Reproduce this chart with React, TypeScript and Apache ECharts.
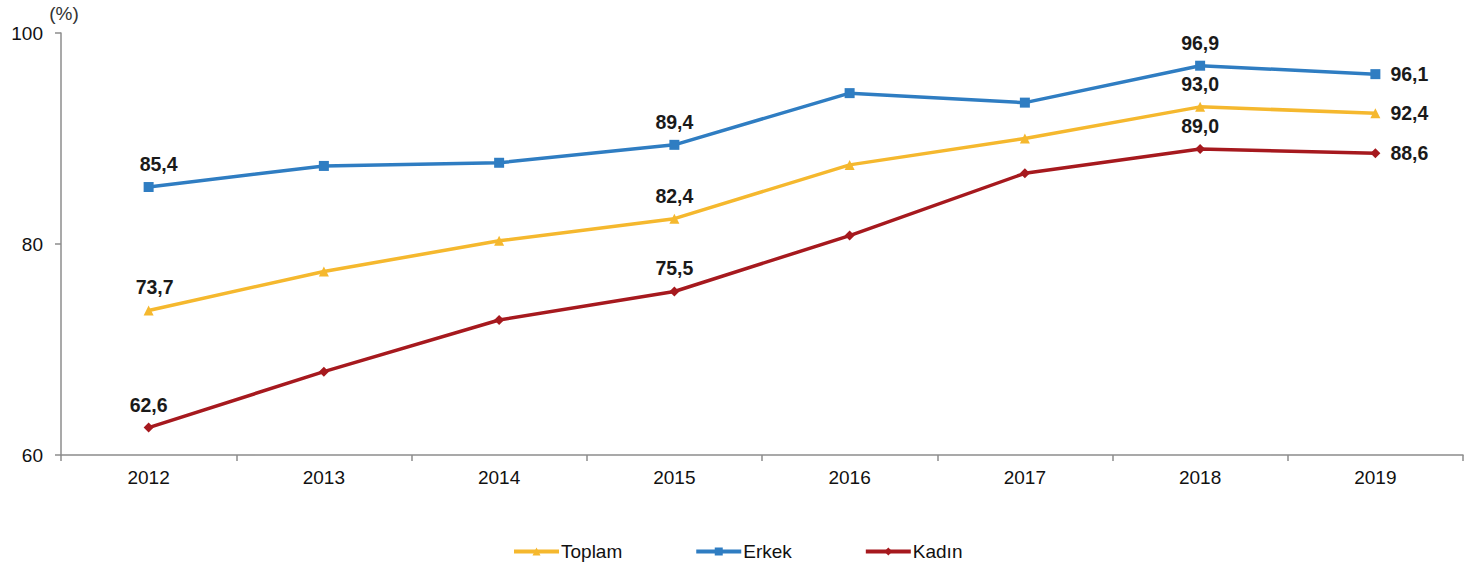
import React, { useEffect, useRef } from "react";
import * as echarts from "echarts";

const years = ["2012", "2013", "2014", "2015", "2016", "2017", "2018", "2019"];
const toplam = [73.7, 77.4, 80.3, 82.4, 87.5, 90.0, 93.0, 92.4];
const erkek = [85.4, 87.4, 87.7, 89.4, 94.3, 93.4, 96.9, 96.1];
const kadin = [62.6, 67.9, 72.8, 75.5, 80.8, 86.7, 89.0, 88.6];
const labelIdx = [0, 3, 6, 7];
const yTicks = [60, 80, 100];

const FONT = "'Liberation Sans', Arial, sans-serif";

function fmt(v: number) {
  return v.toFixed(1).replace(".", ",");
}

function buildData(values: number[], offsets: Record<number, number>) {
  return values.map((v, i) => {
    if (!labelIdx.includes(i)) return { value: v };
    const last = i === values.length - 1;
    return {
      value: v,
      label: {
        show: true,
        position: last ? "right" : "top",
        distance: last ? 10 : 8,
        offset: [offsets[i] || 0, 0],
        formatter: () => fmt(v),
        fontFamily: FONT,
        fontSize: 19.5,
        fontWeight: "bold",
        color: "#1a1a1a",
      },
    };
  });
}

export default function App() {
  const ref = useRef<HTMLDivElement>(null);
  useEffect(() => {
    if (!ref.current) return;
    const chart = echarts.init(ref.current, null, { renderer: "svg" });
    const series = [
      {
        name: "Toplam",
        color: "#F5B82E",
        symbol: "triangle",
        symbolSize: 10,
        data: buildData(toplam, { 0: 6 }),
      },
      {
        name: "Erkek",
        color: "#2F7DC2",
        symbol: "rect",
        symbolSize: 10,
        data: buildData(erkek, { 0: 10 }),
      },
      {
        name: "Kadın",
        color: "#A6191E",
        symbol: "diamond",
        symbolSize: 10,
        data: buildData(kadin, {}),
      },
    ].map((s) => ({
      type: "line" as const,
      name: s.name,
      data: s.data,
      symbol: s.symbol,
      symbolSize: s.symbolSize,
      showSymbol: true,
      lineStyle: { width: 3.5, color: s.color },
      itemStyle: { color: s.color },
      label: { show: false },
      emphasis: { disabled: true },
    }));
    chart.setOption({
      animation: false,
      textStyle: { fontFamily: FONT },
      grid: { left: 61, right: 13, top: 33, bottom: 112, containLabel: false },
      legend: {
        left: 507,
        top: 537,
        itemWidth: 45,
        itemHeight: 10,
        itemGap: 72,
        lineStyle: { width: 4 },
        textStyle: { fontFamily: FONT, fontSize: 19, color: "#111111", padding: [0, 0, 0, -3] },
        data: ["Toplam", "Erkek", "Kadın"],
      },
      xAxis: {
        type: "category",
        data: years,
        boundaryGap: true,
        axisLine: { lineStyle: { color: "#8C8C8C", width: 1.5 } },
        axisTick: { show: true, length: 6, lineStyle: { color: "#8C8C8C", width: 1.5 } },
        axisLabel: { fontFamily: FONT, fontSize: 19, color: "#111111", margin: 13 },
      },
      yAxis: {
        type: "value",
        min: 60,
        max: 100,
        interval: 20,
        name: "(%)",
        nameLocation: "end",
        nameGap: 10,
        nameTextStyle: { fontFamily: FONT, fontSize: 19, color: "#333333", align: "center", padding: [0, 0, 0, 6] },
        splitLine: { show: false },
        axisLine: { show: true, lineStyle: { color: "#8C8C8C", width: 1.5 } },
        axisTick: { show: true, length: 6, lineStyle: { color: "#8C8C8C", width: 1.5 } },
        axisLabel: {
          fontFamily: FONT,
          fontSize: 19,
          color: "#111111",
          margin: 18,
          formatter: (v: number) => (yTicks.includes(v) ? String(v) : ""),
        },
      },
      series,
    });
    return () => chart.dispose();
  }, []);
  return <div ref={ref} style={{ width: 1476, height: 567, position: "absolute", left: 0, top: 0 }} />;
}
